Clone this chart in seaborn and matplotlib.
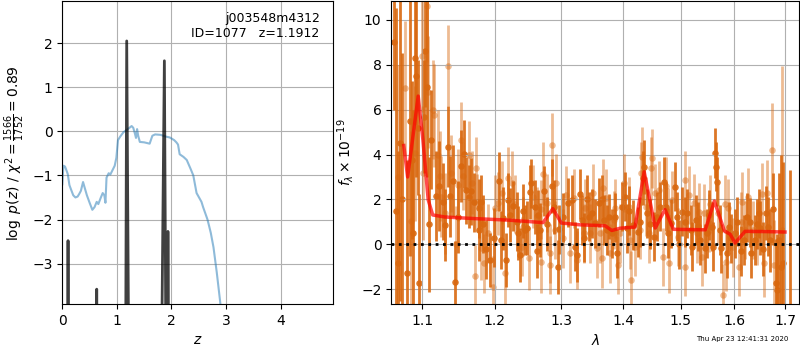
import numpy as np
import matplotlib
matplotlib.use("Agg")
import matplotlib.pyplot as plt
from matplotlib.ticker import NullLocator
import seaborn as sns


# left panel: chi2 curve and log p(z) spikes
chi_z = [0.00, 0.02, 0.05, 0.08, 0.10, 0.13, 0.16, 0.20, 0.24, 0.28, 0.31, 0.34,
         0.38, 0.41, 0.45, 0.50, 0.55, 0.59, 0.63, 0.66, 0.70, 0.74, 0.77, 0.79,
         0.81, 0.85, 0.88, 0.92, 0.96, 0.99, 1.02, 1.06, 1.12, 1.20, 1.27, 1.30,
         1.33, 1.35, 1.37, 1.39, 1.42, 1.50, 1.60, 1.65, 1.70, 1.80, 1.90, 1.97,
         2.05, 2.09, 2.12, 2.15, 2.22, 2.28, 2.35, 2.40, 2.46, 2.55, 2.58, 2.66,
         2.72, 2.77, 2.83, 2.89, 2.93]
chi_val = [-1.20, -0.78, -0.80, -0.90, -0.97, -1.22, -1.32, -1.45, -1.50, -1.48, -1.42, -1.35,
           -1.15, -1.28, -1.45, -1.62, -1.78, -1.72, -1.60, -1.65, -1.52, -1.40, -1.45, -1.62,
           -1.05, -0.95, -0.98, -0.88, -0.78, -0.60, -0.20, -0.12, -0.02, 0.05, 0.12, 0.08,
           -0.05, -0.15, 0.05, -0.10, -0.24, -0.25, -0.28, -0.10, -0.07, -0.08, -0.12, -0.14,
           -0.20, -0.25, -0.30, -0.52, -0.58, -0.65, -0.85, -1.00, -1.40, -1.60, -1.72, -2.00,
           -2.30, -2.63, -3.20, -3.84, -4.30]

pz_z = [0.0, 0.09, 0.105, 0.12, 0.61, 0.63, 0.65, 1.15, 1.18, 1.235,
        1.79, 1.87, 1.915, 1.935, 1.965, 4.96]
pz_val = [-9, -9, -2.48, -9, -9, -3.58, -9, -9, 2.05, -9,
          -9, 1.60, -9, -2.27, -9, -9]

# right panel: spectrum, two sets of points (dark / light) and the model
wave_d = [1.063, 1.066, 1.069, 1.071, 1.074, 1.080, 1.084, 1.087, 1.088, 1.090,
          1.092, 1.094, 1.096, 1.102, 1.104, 1.107, 1.109, 1.112, 1.119, 1.123,
          1.131, 1.134, 1.138, 1.142, 1.144, 1.153, 1.157, 1.160, 1.163, 1.167,
          1.170, 1.177, 1.178, 1.180, 1.188, 1.193, 1.206, 1.212, 1.216, 1.220,
          1.222, 1.227, 1.232, 1.234, 1.237, 1.244, 1.247, 1.252, 1.254, 1.259,
          1.264, 1.267, 1.273, 1.285, 1.289, 1.295, 1.296, 1.310, 1.316, 1.322,
          1.324, 1.329, 1.332, 1.340, 1.343, 1.348, 1.354, 1.360, 1.369, 1.373,
          1.376, 1.381, 1.390, 1.398, 1.403, 1.406, 1.417, 1.425, 1.433, 1.436,
          1.441, 1.452, 1.458, 1.464, 1.471, 1.474, 1.483, 1.490, 1.493, 1.502,
          1.512, 1.518, 1.521, 1.527, 1.536, 1.545, 1.548, 1.557, 1.560, 1.563,
          1.565, 1.566, 1.572, 1.575, 1.590, 1.594, 1.601, 1.605, 1.618, 1.630,
          1.633, 1.639, 1.647, 1.650, 1.661, 1.666, 1.670, 1.675, 1.681, 1.684,
          1.688, 1.692, 1.696, 1.711,
          # bars whose markers are mostly hidden in the crowd
          1.128, 1.148, 1.184, 1.199, 1.209, 1.241, 1.262, 1.278, 1.303, 1.335,
          1.365, 1.386, 1.410, 1.429, 1.446, 1.478, 1.497, 1.507, 1.531, 1.552,
          1.585, 1.612, 1.624, 1.643, 1.656]
flux_d = [9.0, 1.5, -0.85, 4.5, 2.0, -1.26, 5.5, 3.76, 0.5, 8.3,
          7.5, 5.2, -1.74, 5.69, 8.6, 7.0, 0.9, 4.65, 2.15, 2.6,
          0.85, 4.35, 2.15, 2.82, -1.66, 3.5, 4.03, 2.4, 2.12, 2.36,
          1.87, 1.6, 0.64, 1.9, -0.22, -0.7, 2.8, 1.16, -0.7, 1.98,
          1.31, 1.71, 1.01, 0.49, -0.48, 0.64, 0.71, 2.35, 2.72, 1.68,
          1.31, 0.64, 2.38, 2.6, 1.68, -1.0, 0.67, 1.86, 1.98, -0.1,
          -0.48, 2.24, 1.08, 2.0, 1.23, 1.38, 0.94, 1.86, 1.08, 0.64,
          1.23, 0.49, -0.4, 1.68, 2.12, 0.71, 0.86, 0.56, 2.94, 3.46,
          1.38, 0.34, 1.23, 1.68, 2.79, 1.68, 0.94, 2.57, 1.23, 1.46,
          1.38, 0.64, -0.1, 1.08, 0.19, -0.18, 0.49, 0.79, -0.1, 4.06,
          3.46, 2.79, 0.64, -0.18, 0.79, 0.27, 0.49, 1.01, 0.19, 0.98,
          -0.4, 0.19, 1.38, 0.71, 1.38, 0.79, 0.19, 1.56, -1.74, -2.04,
          0.19, -1.0, -0.85, -3.5,
          1.9, 1.2, 0.9, 0.3, 0.2, 1.5, -0.3, 0.9, 1.2, 0.3,
          2.0, 1.2, 1.5, 1.0, 0.9, 0.5, 0.0, 1.0, 0.8, 1.3,
          -0.4, -0.3, 1.2, 0.9, -0.2]
err_d = [3.0, 9.0, 5.0, 7.0, 6.5, 5.0, 6.0, 3.5, 5.5, 3.0,
         4.5, 3.0, 4.0, 2.5, 2.5, 4.0, 3.0, 2.2, 2.0, 2.0,
         1.6, 1.8, 1.8, 1.6, 1.8, 1.6, 1.5, 1.5, 1.4, 1.5,
         1.3, 1.3, 1.4, 1.2, 1.3, 1.2, 1.3, 1.4, 1.2, 1.2,
         1.2, 1.1, 1.3, 1.2, 1.2, 1.1, 1.2, 1.2, 1.1, 1.2,
         1.1, 1.2, 1.1, 1.2, 1.2, 1.2, 1.1, 1.1, 1.1, 1.1,
         1.2, 1.1, 1.1, 1.1, 1.1, 1.1, 1.1, 1.1, 1.1, 1.1,
         1.0, 1.1, 1.1, 1.1, 1.1, 1.1, 1.1, 1.1, 1.2, 1.2,
         1.1, 1.1, 1.1, 1.1, 1.1, 1.1, 1.1, 1.1, 1.1, 1.1,
         1.1, 1.1, 1.1, 1.1, 1.1, 1.1, 1.1, 1.1, 1.1, 1.1,
         1.1, 1.1, 1.1, 1.1, 1.1, 1.1, 1.1, 1.1, 1.1, 1.1,
         1.1, 1.1, 1.1, 1.2, 1.2, 1.3, 1.4, 1.6, 2.0, 2.5,
         3.0, 5.0, 4.5, 6.8,
         1.7, 1.6, 1.3, 1.3, 1.3, 1.2, 1.2, 1.2, 1.1, 1.1,
         1.1, 1.1, 1.1, 1.1, 1.1, 1.1, 1.1, 1.1, 1.1, 1.1,
         1.1, 1.1, 1.1, 1.1, 1.2]

wave_l = [1.068, 1.077, 1.086, 1.091, 1.100, 1.101, 1.106, 1.108, 1.115, 1.116,
          1.121, 1.124, 1.125, 1.130, 1.135, 1.139, 1.145, 1.148, 1.152, 1.155,
          1.163, 1.168, 1.172, 1.173, 1.175, 1.181, 1.185, 1.191, 1.197, 1.200,
          1.205, 1.211, 1.215, 1.219, 1.225, 1.230, 1.240, 1.241, 1.250, 1.257,
          1.262, 1.268, 1.269, 1.272, 1.277, 1.282, 1.283, 1.286, 1.290, 1.292,
          1.303, 1.307, 1.313, 1.320, 1.325, 1.335, 1.338, 1.346, 1.351, 1.357,
          1.362, 1.365, 1.367, 1.371, 1.378, 1.384, 1.387, 1.392, 1.395, 1.401,
          1.409, 1.412, 1.414, 1.420, 1.428, 1.430, 1.432, 1.439, 1.444, 1.448,
          1.449, 1.455, 1.461, 1.468, 1.473, 1.477, 1.480, 1.485, 1.496, 1.507,
          1.508, 1.515, 1.524, 1.530, 1.533, 1.539, 1.542, 1.551, 1.554, 1.569,
          1.579, 1.581, 1.584, 1.587, 1.597, 1.608, 1.612, 1.615, 1.621, 1.626,
          1.636, 1.644, 1.654, 1.657, 1.663, 1.674, 1.677, 1.694]
flux_l = [3.0, 6.95, 1.06, 4.06, 8.37, 3.18, 10.6, 6.78, 6.0, 5.74,
          4.0, 3.06, 2.12, 1.38, 7.95, 3.16, 0.0, 2.63, 4.65, 3.05,
          4.0, 2.75, -1.41, 3.39, 1.83, -0.18, -0.85, 0.49, -1.9, 1.6,
          1.83, 2.3, -1.29, 2.94, 2.75, 1.8, -0.1, 0.79, -0.62, 2.12,
          1.26, -0.77, 1.56, 3.14, 1.83, -0.4, -0.92, 4.43, 0.64, 2.72,
          0.27, 2.2, -0.4, 2.05, -0.7, 0.49, 1.6, 0.49, 2.27, -0.18,
          0.49, -0.62, 2.5, 2.05, -0.4, 1.08, 1.6, -0.92, 0.49, 2.72,
          1.68, 0.19, -1.59, -0.1, 0.64, 3.16, 3.91, 1.68, 0.49, 3.39,
          3.83, 2.27, 2.42, -0.55, 2.6, 1.23, -0.85, 1.98, 0.34, 2.87,
          -1.0, 2.2, 1.83, 0.49, 1.44, -0.55, 1.38, 0.94, 1.8, 1.38,
          -2.26, 1.8, -0.77, 1.6, -0.13, -1.0, 1.01, 1.9, 0.64, 2.12,
          0.64, 0.49, 2.23, -0.85, 2.27, 4.2, -0.92, 0.64]
err_l = [5.0, 3.0, 4.0, 3.0, 2.5, 3.0, 2.5, 2.5, 2.2, 2.3,
         2.0, 2.0, 1.8, 1.8, 1.8, 1.7, 1.7, 1.6, 1.7, 1.5,
         1.5, 1.4, 1.4, 1.4, 1.3, 1.4, 1.3, 1.3, 1.4, 1.5,
         1.4, 1.4, 1.4, 1.4, 1.4, 1.3, 1.3, 1.3, 1.4, 1.4,
         1.3, 1.4, 1.3, 1.4, 1.3, 1.3, 1.3, 1.4, 1.3, 1.3,
         1.3, 1.3, 1.3, 1.3, 1.3, 1.3, 1.3, 1.3, 1.3, 1.3,
         1.3, 1.3, 1.3, 1.3, 1.3, 1.3, 1.3, 1.3, 1.3, 1.3,
         1.3, 1.3, 1.3, 1.3, 1.3, 1.4, 1.3, 1.3, 1.3, 1.4,
         1.3, 1.3, 1.3, 1.3, 1.3, 1.3, 1.3, 1.3, 1.3, 1.3,
         1.3, 1.3, 1.3, 1.3, 1.3, 1.3, 1.3, 1.3, 1.3, 1.3,
         1.4, 1.3, 1.3, 1.3, 1.3, 1.3, 1.3, 1.3, 1.3, 1.3,
         1.3, 1.4, 1.4, 1.5, 1.5, 2.1, 2.0, 7.3]

model_wave = [1.076, 1.081, 1.0948, 1.101, 1.108, 1.114, 1.13, 1.17, 1.22, 1.2718,
              1.2867, 1.30, 1.33, 1.37, 1.381, 1.395, 1.420, 1.4358, 1.455, 1.472,
              1.487, 1.545, 1.5619, 1.5807, 1.592, 1.601, 1.6204, 1.66, 1.70]
model_flux = [4.40, 3.00, 6.60, 4.65, 1.98, 1.31, 1.22, 1.15, 1.08, 0.97,
              1.59, 0.95, 0.87, 0.83, 0.62, 0.72, 0.77, 3.23, 0.73, 1.55,
              0.67, 0.65, 1.93, 0.60, 0.45, 0.06, 0.58, 0.57, 0.55]

wave_ticks = [1.1, 1.2, 1.3, 1.4, 1.5, 1.6, 1.7]

dark = "#d9680f"

fig = plt.figure(figsize=(8, 3.5), dpi=100)
ax1 = fig.add_axes([0.0779, 0.131, 0.3387, 0.866])
ax2 = fig.add_axes([0.4891, 0.131, 0.5100, 0.866])

# left: redshift fit
sns.lineplot(x=chi_z, y=chi_val, ax=ax1, color="C0", alpha=0.5, lw=1.5,
             estimator=None, sort=False)
sns.lineplot(x=pz_z, y=pz_val, ax=ax1, color="k", alpha=0.75, lw=2,
             estimator=None, sort=False)
ax1.set_xlim(0, 4.965)
ax1.set_ylim(-3.92, 2.955)
ax1.set_xticks([0, 1, 2, 3, 4])
ax1.set_yticks([-3, -2, -1, 0, 1, 2])
ax1.grid(True)
ax1.set_xlabel(r"$z$")
ax1.set_ylabel(r"$\log\ p(z)$ / $\chi^2=\frac{1566}{1752}=0.89$")
ax1.text(0.95, 0.965, "j003548m4312\nID=1077   z=1.1912", transform=ax1.transAxes,
         ha="right", va="top", fontsize=9)

# right: spectrum
fl = np.array(flux_l)
el = np.array(err_l)
fd = np.array(flux_d)
ed = np.array(err_d)
ax2.vlines(wave_l, fl - el, fl + el, color=dark, alpha=0.45, lw=2)
sns.scatterplot(x=wave_l, y=flux_l, ax=ax2, color=dark, alpha=0.45, s=22,
                linewidth=0)
ax2.vlines(wave_d, fd - ed, fd + ed, color=dark, alpha=0.9, lw=2)
sns.scatterplot(x=wave_d, y=flux_d, ax=ax2, color=dark, alpha=0.9, s=22,
                linewidth=0)
sns.lineplot(x=model_wave, y=model_flux, ax=ax2, color="r", alpha=0.7, lw=2.5,
             estimator=None, sort=False)
ax2.axhline(0, color="k", ls=":", lw=2)

ax2.set_xscale("log")
ax2.set_xlim(1.06, 1.7294)
ax2.set_ylim(-2.66, 10.83)
ax2.set_xticks(wave_ticks)
ax2.set_xticklabels([f"{t:.1f}" for t in wave_ticks])
ax2.xaxis.set_minor_locator(NullLocator())
ax2.set_yticks([-2, 0, 2, 4, 6, 8, 10])
ax2.grid(True)
ax2.set_xlabel(r"$\lambda$")
ax2.set_ylabel(r"$f_\lambda\times10^{-19}$")

fig.text(0.985, 0.03, "Thu Apr 23 12:41:31 2020", ha="right", va="center",
         fontsize=5)

fig.savefig("out.png", dpi=100)
